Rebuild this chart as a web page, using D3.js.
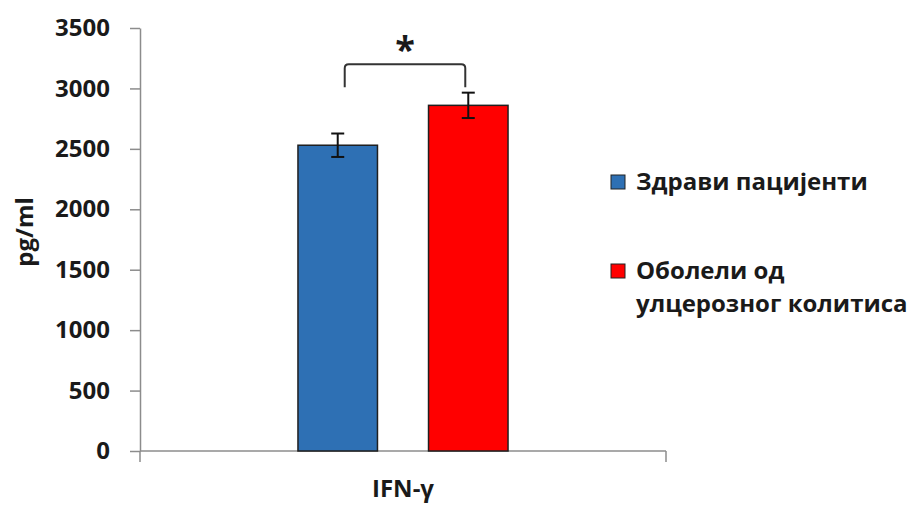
<!DOCTYPE html>
<html>
<head>
<meta charset="utf-8">
<script src="https://cdn.jsdelivr.net/npm/d3@7"></script>
<style>
  body { margin: 0; background: #fff; }
  text { font-family: "Open Sans", "Noto Sans", sans-serif; font-weight: bold; fill: #1a1a1a; }
</style>
</head>
<body>
<div id="chart"></div>
<script>
// data
const categories = ["IFN-γ"];
const seriesNames = ["Здрави пацијенти", "Оболели од улцерозног колитиса"];
const means = [2530, 2860];
const errors = [97, 105];
const colors = ["#2e70b4", "#ff0000"];
const yTicks = [0, 500, 1000, 1500, 2000, 2500, 3000, 3500];

const width = 911, height = 508;
const margin = ({top: 28, right: 245, bottom: 57, left: 140});

const svg = d3.select("#chart")
    .append("svg")
    .attr("width", width)
    .attr("height", height);

const y = d3.scaleLinear()
    .domain([0, 3500])
    .range([height - margin.bottom, margin.top]);

const x0 = d3.scaleBand()
    .domain(categories)
    .range([margin.left, width - margin.right])
    .paddingInner(0)
    .paddingOuter(0.752);

const x1 = d3.scaleBand()
    .domain(seriesNames)
    .range([0, x0.bandwidth()])
    .paddingInner(0.391);

// y axis
const yAxis = svg.append("g")
    .attr("transform", "translate(" + margin.left + ",0)")
    .call(d3.axisLeft(y).tickValues(yTicks).tickFormat(d3.format("d"))
        .tickSize(10).tickPadding(20).tickSizeOuter(0));
yAxis.attr("font-family", null).attr("font-size", null);
yAxis.select(".domain").attr("stroke", "#8c8c8c").attr("stroke-width", 1.5);
yAxis.selectAll(".tick line").attr("stroke", "#8c8c8c").attr("stroke-width", 1.5);
yAxis.selectAll(".tick text").style("font-size", "24px").attr("fill", "#1a1a1a");

// x axis
const xAxis = svg.append("g")
    .attr("transform", "translate(0," + y(0) + ")");
xAxis.append("line")
    .attr("x1", margin.left).attr("x2", width - margin.right)
    .attr("stroke", "#8c8c8c").attr("stroke-width", 1.5);
xAxis.selectAll(".edge")
    .data([margin.left, width - margin.right])
    .enter()
    .append("line")
    .attr("x1", d => d).attr("x2", d => d)
    .attr("y1", 0).attr("y2", 11)
    .attr("stroke", "#8c8c8c").attr("stroke-width", 1.5);
xAxis.selectAll(".cat")
    .data(categories)
    .enter()
    .append("text")
    .attr("x", d => x0(d) + x0.bandwidth() / 2)
    .attr("y", 46)
    .attr("text-anchor", "middle")
    .style("font-size", "24px")
    .text(d => d);

// y label
svg.append("text")
    .attr("transform", "translate(33," + 232 + ") rotate(-90)")
    .attr("text-anchor", "middle")
    .style("font-size", "24px")
    .text("pg/ml");

// bars
const bars = seriesNames.map((s, i) => ({series: s, value: means[i], err: errors[i], color: colors[i], cat: categories[0]}));

svg.selectAll("rect.bar")
    .data(bars)
    .enter()
    .append("rect")
    .attr("class", "bar")
    .attr("x", d => x0(d.cat) + x1(d.series))
    .attr("y", d => y(d.value))
    .attr("width", x1.bandwidth())
    .attr("height", d => y(0) - y(d.value))
    .attr("fill", d => d.color)
    .attr("stroke", "#1f1f1f")
    .attr("stroke-width", 1.5);

// error bars
const eb = svg.selectAll("g.err")
    .data(bars)
    .enter()
    .append("g")
    .attr("class", "err")
    .attr("stroke", "#111")
    .attr("stroke-width", 2);
const cx = d => x0(d.cat) + x1(d.series) + x1.bandwidth() / 2;
eb.append("line")
    .attr("x1", cx).attr("x2", cx)
    .attr("y1", d => y(d.value + d.err)).attr("y2", d => y(d.value - d.err));
eb.append("line")
    .attr("x1", d => cx(d) - 6.5).attr("x2", d => cx(d) + 6.5)
    .attr("y1", d => y(d.value + d.err)).attr("y2", d => y(d.value + d.err));
eb.append("line")
    .attr("x1", d => cx(d) - 6.5).attr("x2", d => cx(d) + 6.5)
    .attr("y1", d => y(d.value - d.err)).attr("y2", d => y(d.value - d.err));

// significance bracket
const bl = cx(bars[0]) + 7, br = cx(bars[1]) - 3;
const bTop = y(3200), bBot = y(3010);
svg.append("path")
    .attr("d", "M" + bl + "," + bBot + " L" + bl + "," + (bTop + 4) +
        " Q" + bl + "," + bTop + " " + (bl + 4) + "," + bTop +
        " L" + (br - 4) + "," + bTop +
        " Q" + br + "," + bTop + " " + br + "," + (bTop + 4) +
        " L" + br + "," + bBot)
    .attr("fill", "none")
    .attr("stroke", "#333")
    .attr("stroke-width", 2);
svg.append("text")
    .attr("x", (bl + br) / 2)
    .attr("y", bTop - 2)
    .attr("text-anchor", "middle")
    .style("font-size", "36px")
    .text("*");

// legend
const legend = svg.append("g").attr("transform", "translate(611,0)");
const legendRows = [
    {lines: ["Здрави пацијенти"], color: colors[0], top: 175},
    {lines: ["Оболели од", "улцерозног колитиса"], color: colors[1], top: 264}
];
legendRows.forEach(r => {
    legend.append("rect")
        .attr("x", 0).attr("y", r.top)
        .attr("width", 14).attr("height", 14)
        .attr("fill", r.color)
        .attr("stroke", "#222").attr("stroke-width", 1);
    r.lines.forEach((t, j) => {
        legend.append("text")
            .attr("x", 25)
            .attr("y", r.top + 15 + j * 33)
            .style("font-size", "24px")
            .text(t);
    });
});
</script>
</body>
</html>
